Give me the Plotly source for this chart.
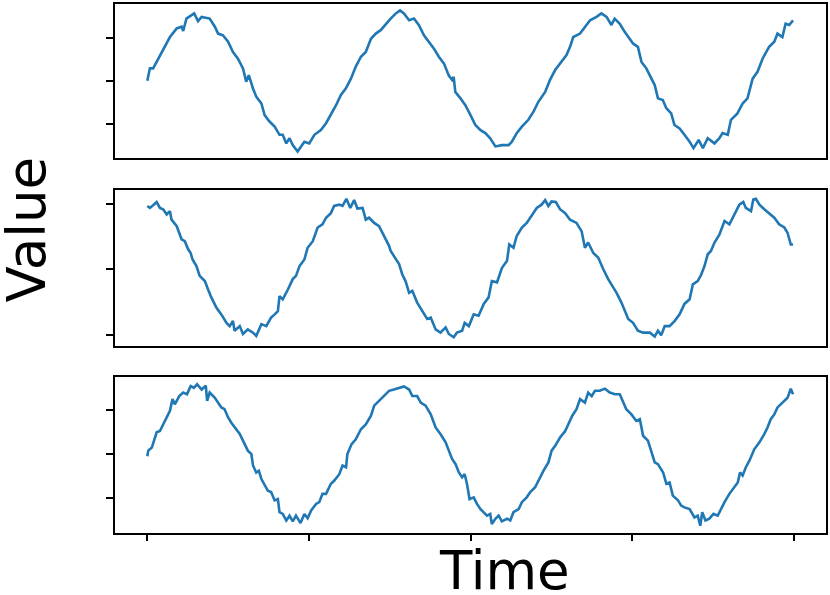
import plotly.graph_objects as go
from plotly.subplots import make_subplots

# ---- data ----
t1 = [0.00,0.08,0.18,0.34,0.44,0.55,0.70,0.91,1.06,1.11,1.21,1.37,1.45,1.57,1.68,1.93,2.09,2.19,2.34,2.50,
      2.65,2.80,2.96,3.06,3.14,3.27,3.37,3.53,3.63,3.78,3.94,4.09,4.19,4.30,4.40,4.50,4.65,4.86,5.01,5.17,
      5.37,5.53,5.68,5.84,5.99,6.14,6.30,6.45,6.61,6.76,6.92,7.07,7.22,7.38,7.53,7.69,7.82,7.94,8.10,8.25,
      8.40,8.56,8.71,8.87,9.02,9.18,9.33,9.43,9.48,9.53,9.69,9.84,10.00,10.15,10.31,10.46,10.61,10.77,10.97,11.18,
      11.28,11.43,11.59,11.79,11.95,12.10,12.31,12.46,12.62,12.82,12.97,13.08,13.18,13.39,13.54,13.70,13.90,14.05,14.21,14.36,
      14.46,14.62,14.77,14.88,15.03,15.18,15.29,15.44,15.54,15.70,15.80,15.95,16.06,16.21,16.31,16.47,16.62,16.78,16.90,17.06,
      17.19,17.34,17.55,17.70,17.80,17.96,18.06,18.26,18.42,18.57,18.73,18.88,19.04,19.24,19.40,19.50,19.65,19.75,19.86,19.98]
v1 = [0.00,0.29,0.29,0.52,0.63,0.79,1.02,1.22,1.26,1.16,1.45,1.53,1.57,1.39,1.49,1.45,1.26,1.10,1.06,0.91,
      0.67,0.52,0.29,-0.02,0.13,-0.18,-0.37,-0.53,-0.80,-0.95,-1.07,-1.26,-1.26,-1.46,-1.34,-1.50,-1.65,-1.42,-1.46,-1.26,
      -1.15,-0.99,-0.80,-0.57,-0.33,-0.18,0.05,0.33,0.56,0.67,0.98,1.10,1.18,1.33,1.45,1.57,1.64,1.57,1.41,1.45,
      1.30,1.06,0.91,0.75,0.56,0.40,0.12,0.02,0.09,-0.26,-0.41,-0.57,-0.80,-1.03,-1.15,-1.22,-1.34,-1.53,-1.50,-1.50,
      -1.42,-1.22,-1.07,-0.91,-0.72,-0.49,-0.26,0.02,0.25,0.44,0.60,0.79,1.02,1.10,1.26,1.41,1.49,1.57,1.49,1.30,
      1.45,1.33,1.14,1.02,0.87,0.79,0.44,0.29,0.13,-0.10,-0.41,-0.45,-0.64,-0.76,-1.03,-1.11,-1.26,-1.42,-1.57,-1.38,
      -1.57,-1.34,-1.46,-1.34,-1.22,-1.26,-0.91,-0.76,-0.53,-0.41,0.05,0.21,0.52,0.79,0.91,1.10,1.02,1.33,1.30,1.41]

t2 = [0.00,0.08,0.18,0.29,0.39,0.49,0.60,0.70,0.75,0.91,1.06,1.16,1.26,1.34,1.40,1.52,1.62,1.78,1.88,1.98,
      2.14,2.29,2.45,2.55,2.65,2.70,2.86,2.96,3.11,3.27,3.37,3.53,3.68,3.83,3.94,4.04,4.09,4.19,4.35,4.50,
      4.60,4.71,4.86,4.96,5.12,5.27,5.42,5.53,5.68,5.78,5.94,6.04,6.16,6.28,6.40,6.50,6.66,6.76,6.86,7.02,
      7.17,7.33,7.48,7.53,7.63,7.79,7.89,7.99,8.10,8.20,8.35,8.51,8.66,8.77,8.92,9.07,9.23,9.33,9.48,9.58,
      9.74,9.82,9.95,10.10,10.25,10.41,10.56,10.66,10.82,10.97,11.13,11.20,11.33,11.43,11.59,11.74,11.90,12.05,12.20,12.31,
      12.41,12.51,12.64,12.77,12.93,13.08,13.28,13.44,13.54,13.64,13.80,13.95,14.11,14.26,14.42,14.52,14.67,14.88,15.03,15.18,
      15.34,15.55,15.70,15.80,15.90,16.01,16.16,16.32,16.47,16.62,16.78,16.88,17.03,17.14,17.24,17.34,17.44,17.55,17.70,17.86,
      18.01,18.16,18.32,18.44,18.52,18.68,18.75,18.83,18.94,19.09,19.24,19.40,19.55,19.71,19.81,19.91,19.98]
v2 = [0.97,0.94,0.98,1.03,0.94,0.92,0.84,0.89,0.76,0.66,0.46,0.43,0.31,0.25,0.15,0.05,-0.10,-0.18,-0.31,-0.43,
      -0.59,-0.69,-0.82,-0.87,-0.79,-0.94,-0.87,-0.99,-0.92,-0.97,-1.02,-0.84,-0.87,-0.74,-0.69,-0.64,-0.41,-0.46,-0.31,-0.15,
      -0.10,0.05,0.15,0.33,0.43,0.64,0.69,0.79,0.86,0.97,0.99,0.97,1.08,0.94,1.06,0.93,0.94,0.76,0.79,0.71,
      0.66,0.51,0.36,0.28,0.20,0.08,-0.08,-0.18,-0.36,-0.33,-0.51,-0.64,-0.76,-0.74,-0.92,-0.97,-0.89,-0.99,-1.04,-0.97,
      -0.94,-0.82,-0.87,-0.69,-0.71,-0.53,-0.43,-0.18,-0.20,0.02,0.13,0.38,0.33,0.51,0.64,0.71,0.84,0.94,0.99,1.06,
      0.97,1.04,1.03,0.92,0.86,0.76,0.71,0.58,0.33,0.41,0.25,0.18,0.00,-0.15,-0.28,-0.36,-0.51,-0.76,-0.82,-0.94,
      -0.97,-0.97,-1.03,-0.94,-1.01,-0.87,-0.87,-0.79,-0.69,-0.53,-0.46,-0.23,-0.18,-0.08,0.05,0.23,0.28,0.41,0.53,0.74,
      0.69,0.84,0.99,1.03,0.94,0.89,1.07,1.08,0.99,0.92,0.86,0.79,0.69,0.64,0.56,0.38,0.38]

t3 = [0.00,0.03,0.14,0.24,0.29,0.39,0.49,0.58,0.70,0.78,0.85,0.99,1.11,1.23,1.34,1.44,1.54,1.68,1.81,1.85,
      1.93,2.09,2.19,2.29,2.39,2.50,2.60,2.70,2.86,2.96,3.11,3.22,3.27,3.37,3.45,3.53,3.63,3.73,3.83,3.94,
      4.04,4.09,4.19,4.30,4.40,4.50,4.60,4.74,4.86,4.96,5.07,5.22,5.32,5.42,5.53,5.68,5.78,5.94,6.04,6.15,
      6.19,6.32,6.45,6.61,6.76,6.92,7.02,7.17,7.33,7.48,7.63,7.79,7.94,8.10,8.20,8.35,8.46,8.61,8.77,8.92,
      9.07,9.23,9.33,9.43,9.54,9.64,9.74,9.82,9.89,9.97,10.10,10.20,10.31,10.41,10.51,10.61,10.66,10.77,10.87,10.97,
      11.13,11.23,11.33,11.49,11.59,11.74,11.85,12.00,12.10,12.26,12.41,12.51,12.62,12.77,12.93,13.03,13.15,13.28,13.39,13.54,
      13.64,13.75,13.85,14.00,14.16,14.31,14.47,14.62,14.72,14.82,14.98,15.13,15.24,15.34,15.49,15.59,15.70,15.80,15.96,16.06,
      16.16,16.26,16.42,16.52,16.62,16.78,16.93,17.03,17.11,17.17,17.27,17.39,17.52,17.65,17.75,17.86,18.01,18.16,18.27,18.34,
      18.42,18.52,18.63,18.78,18.94,19.09,19.19,19.29,19.40,19.50,19.65,19.81,19.91,19.98]
v3 = [-0.05,0.08,0.15,0.42,0.50,0.53,0.68,0.84,0.99,1.26,1.14,1.33,1.41,1.37,1.56,1.52,1.60,1.48,1.57,1.22,
      1.41,1.29,1.18,1.07,1.03,0.84,0.72,0.61,0.46,0.31,0.08,0.00,-0.26,-0.42,-0.38,-0.57,-0.72,-0.84,-0.87,-1.06,
      -1.03,-1.33,-1.37,-1.52,-1.41,-1.54,-1.41,-1.58,-1.37,-1.47,-1.29,-1.14,-1.10,-0.91,-0.91,-0.68,-0.61,-0.46,-0.26,-0.30,
      0.00,0.23,0.34,0.57,0.68,0.88,1.11,1.22,1.33,1.45,1.48,1.52,1.55,1.48,1.33,1.33,1.18,1.11,0.91,0.61,
      0.46,0.27,0.10,-0.11,-0.23,-0.42,-0.53,-0.46,-0.68,-1.03,-0.99,-1.14,-1.26,-1.33,-1.41,-1.37,-1.60,-1.48,-1.41,-1.54,
      -1.48,-1.52,-1.33,-1.26,-1.10,-0.99,-0.87,-0.76,-0.61,-0.38,-0.19,0.08,0.19,0.38,0.53,0.68,0.88,1.03,1.26,1.18,
      1.41,1.33,1.45,1.45,1.50,1.41,1.37,1.37,1.20,1.03,0.91,0.76,0.80,0.42,0.31,0.08,-0.19,-0.23,-0.42,-0.68,
      -0.65,-0.95,-1.06,-1.18,-1.22,-1.26,-1.45,-1.41,-1.64,-1.33,-1.52,-1.48,-1.37,-1.41,-1.26,-1.10,-0.91,-0.76,-0.65,-0.42,
      -0.49,-0.30,-0.15,0.11,0.27,0.46,0.61,0.80,0.91,1.07,1.18,1.29,1.50,1.37]

x_ticks = [0, 5, 10, 15, 20]
y_ticks = [-1, 0, 1]
y_label = "Value"
x_label = "Time"

# ---- figure ----
W, H = 830, 595
ML, MR, MT, MB = 115, 2, 2, 62
PH = H - MT - MB

def frac(py):
    return (H - MB - py) / PH

fig = make_subplots(rows=3, cols=1, shared_xaxes=False)
color = "#1f77b4"
for i, (t, v) in enumerate([(t1, v1), (t2, v2), (t3, v3)], start=1):
    fig.add_trace(go.Scatter(x=t, y=v, mode="lines",
                             line=dict(color=color, width=2.6),
                             showlegend=False, hoverinfo="skip"), row=i, col=1)

domains = [[frac(157), frac(2)], [frac(345), frac(189)], [frac(532.7), frac(376.7)]]
yranges = [[-1.81, 1.79], [-1.17, 1.21], [-1.80, 1.76]]
axis_style = dict(showline=True, mirror=True, linecolor="black", linewidth=1.5,
                  showgrid=False, zeroline=False, ticks="outside", ticklen=7,
                  tickwidth=1.5, tickcolor="black", showticklabels=False)
for i in range(3):
    yk = "yaxis" if i == 0 else f"yaxis{i+1}"
    xk = "xaxis" if i == 0 else f"xaxis{i+1}"
    fig.layout[yk].update(domain=domains[i], range=yranges[i], tickvals=y_ticks, **axis_style)
    xs = dict(axis_style)
    if i < 2:
        xs["ticks"] = ""
    fig.layout[xk].update(range=[-1, 21], tickvals=x_ticks, **xs)

fig.add_annotation(text=y_label, xref="paper", yref="paper",
                   x=(26 - ML) / (W - ML - MR), y=frac(228), textangle=-90,
                   showarrow=False, xanchor="center", yanchor="middle",
                   font=dict(family="DejaVu Sans", size=53, color="black"))
fig.add_annotation(text=x_label, xref="paper", yref="paper",
                   x=(506 - ML) / (W - ML - MR), y=frac(571),
                   showarrow=False, xanchor="center", yanchor="middle",
                   font=dict(family="DejaVu Sans", size=53, color="black"))

fig.update_layout(width=W, height=H, margin=dict(l=ML, r=MR, t=MT, b=MB),
                  plot_bgcolor="white", paper_bgcolor="white")
fig.write_html("out.html", config={"displayModeBar": False},
               post_script="document.body.style.margin='0';")
